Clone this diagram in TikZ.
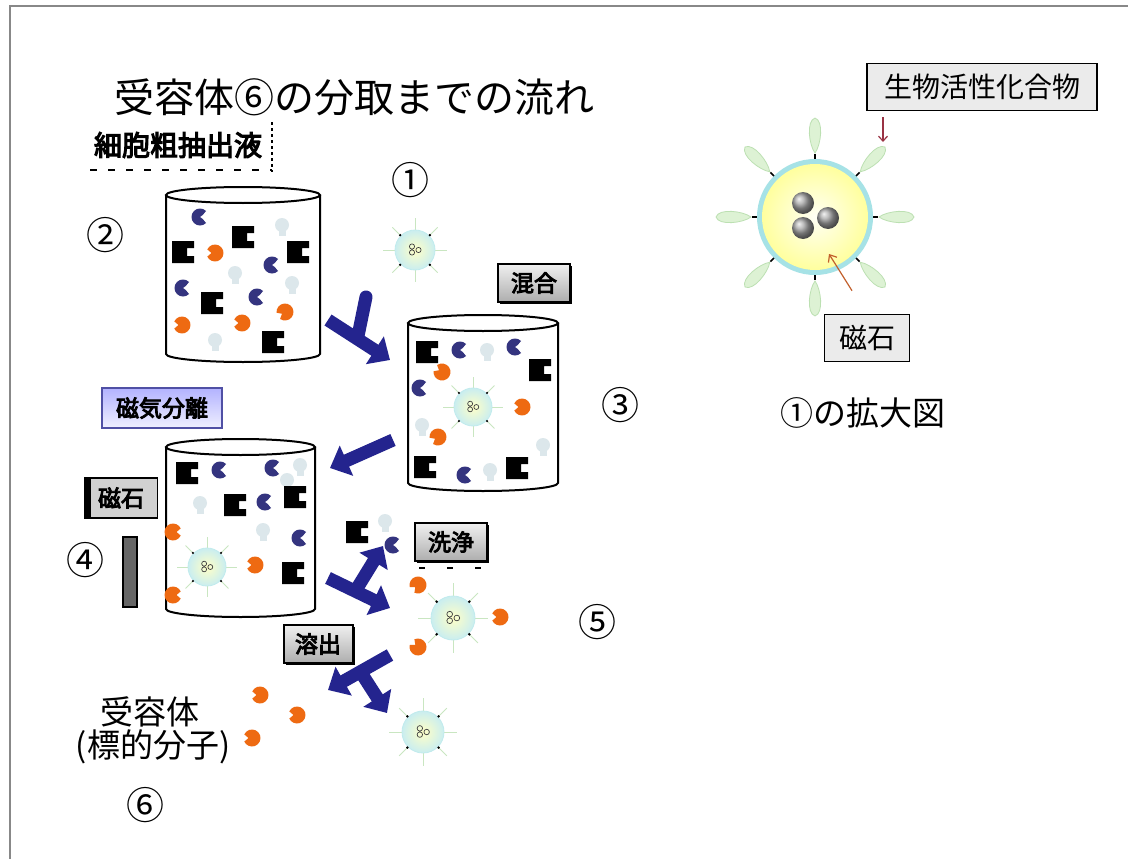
\documentclass[tikz,border=0pt]{standalone}
\usepackage{fontspec}
\newfontfamily\cjk{Noto Sans CJK JP}
\newfontfamily\cjkb{Noto Sans CJK JP}[FakeBold=4]
\usetikzlibrary{arrows.meta,shadows}

\definecolor{navy}{HTML}{24248E}
\definecolor{cblue}{HTML}{34347F}
\definecolor{orng}{HTML}{EE6A12}
\definecolor{paleb}{HTML}{DCE7EB}
\definecolor{lig}{HTML}{DDF2D4}
\definecolor{ligedge}{HTML}{BCE0B2}
\definecolor{ringc}{HTML}{A6E2E6}
\definecolor{redarrow}{HTML}{9A3344}
\definecolor{brnarrow}{HTML}{C2602C}
\definecolor{framec}{HTML}{888888}

% draws a tank: left x, right x, y of the rim, y where the walls end
\newcommand\drawtank[4]{%
  \pgfmathsetmacro\tcx{(#1+#2)/2}\pgfmathsetmacro\trx{(#2-#1)/2}%
  \draw[line width=2pt] (\tcx,#3) ellipse ({\trx} and 8);
  \draw[line width=2pt] (#1,#3) -- (#1,#4) arc (180:0:{\trx} and 8) -- (#2,#3);
}

\tikzset{
  blk/.pic={\fill[black] (-11,-11) -- (11,-11) -- (11,-4) -- (4,-4) -- (4,4) -- (11,4) -- (11,11) -- (-11,11) -- cycle;},
  bc/.pic={\fill[cblue] (45:8.5) arc (45:315:8.5) .. controls (-2,5) and (-2,-5) .. cycle;},
  orb/.pic={\fill[orng] (205:8.5) arc (205:515:8.5) -- (-3.5,0) -- cycle;},
  pale/.pic={\fill[paleb] (0,-2) circle (7); \fill[paleb] (-3.5,2) rectangle (3.5,9);},
  bead/.pic={
    \foreach \a in {0,45,...,315}{\draw[ligedge!80, line width=0.8pt] (\a:20) -- (\a:32);}
    \shade[inner color=yellow!22, outer color=ringc!60] (0,0) circle (20);
    \draw[ringc!70, line width=0.8pt] (0,0) circle (20);
    \foreach \a in {45,135,225,315}{\fill[black] (\a:21) circle (1.3);}
    \draw[black!75, line width=0.7pt] (-3,-3.5) circle (2.6) (-3,2.5) circle (2.6) (3.5,0) circle (2.6);
  },
  barrow/.style={draw=navy, line width=13pt, -{Triangle[width=32pt,length=18pt]}},
  barrowplain/.style={draw=navy, line width=13pt, line cap=round},
  ttl/.style={font=\cjk\fontsize{40}{42}\selectfont, inner sep=0},
  lbl/.style={font=\cjk\fontsize{33}{35}\selectfont, inner sep=0},
  num/.style={font=\cjk\fontsize{38}{38}\selectfont, inner sep=0},
  tagbox/.style={draw=black, line width=2pt, top color=white!94!black, bottom color=black!32,
     font=\cjkb\fontsize{23}{23}\selectfont, inner sep=0, minimum width=#1, minimum height=38pt,
     drop shadow={shadow xshift=2pt, shadow yshift=-2pt, fill=black, opacity=1}},
  tagbox/.default=72pt,
  infobox/.style={draw=black, line width=1.6pt, fill=black!8, inner sep=0,
     font=\cjk\fontsize{28}{28}\selectfont, minimum height=47pt},
}

\begin{document}
\begin{tikzpicture}[x=1pt,y=-1pt]
\useasboundingbox (0,0) rectangle (1128,859);
\fill[white] (0,0) rectangle (1128,859);
\draw[framec, line width=2.5pt] (10,859) -- (10,6) -- (1128,6);

% title and step labels
\node[ttl] (title) at (354,97) {受容体⑥の分取までの流れ};
\node[font=\cjkb\fontsize{28}{28}\selectfont, inner sep=0] (extract) at (178,145) {細胞粗抽出液};
\draw[line width=1.5pt, dash pattern=on 3pt off 3pt] (272,122) -- (272,172);
\draw[line width=1.5pt, dash pattern=on 7pt off 11pt] (90,170) -- (272,170);

\node[num] (n1) at (410,180) {①};
\node[num] (n2) at (105,235) {②};
\node[num] (n3) at (620,405) {③};
\node[num] (n4) at (85,560) {④};
\node[num] (n5) at (597,622) {⑤};
\node[num] (n6) at (145,805) {⑥};

% tank 1: crude extract
\drawtank{166}{320}{195}{354}
\pic at (200,217) {bc};
\pic at (243,237) {blk};
\pic at (282,227) {pale};
\pic at (183,252) {blk};
\pic at (215,253) {orb};
\pic at (298,252) {blk};
\pic at (272,265) {bc};
\pic at (235,275) {pale};
\pic at (183,288) {bc};
\pic at (292,285) {pale};
\pic at (212,303) {blk};
\pic at (257,297) {bc};
\pic[rotate=30] at (285,312) {orb};
\pic at (182,325) {orb};
\pic at (242,323) {orb};
\pic at (215,342) {pale};
\pic at (273,342) {blk};

% free bead
\pic at (415,250) {bead};

% tank 2: mixing
\drawtank{408}{558}{323}{483}
\pic at (427,352) {blk};
\pic at (460,350) {bc};
\pic at (487,352) {pale};
\pic at (515,347) {bc};
\pic at (540,370) {blk};
\pic[rotate=-30] at (442,372) {orb};
\pic at (420,388) {bc};
\pic[scale=0.95] at (473,407) {bead};
\pic at (522,407) {orb};
\pic at (422,427) {pale};
\pic[rotate=30] at (438,437) {orb};
\pic at (543,447) {pale};
\pic at (425,467) {blk};
\pic at (465,475) {bc};
\pic at (490,472) {pale};
\pic at (517,468) {blk};

% tank 3: magnetic separation
\drawtank{166}{315}{447}{609}
\pic at (187,473) {blk};
\pic at (220,470) {bc};
\pic at (273,468) {bc};
\pic at (300,467) {pale};
\pic at (287,482) {pale};
\pic at (235,505) {blk};
\pic at (265,502) {bc};
\pic at (295,497) {blk};
\pic at (200,505) {pale};
\pic at (263,532) {pale};
\pic at (300,538) {bc};
\pic[rotate=180] at (173,532) {orb};
\pic[scale=0.95] at (207,567) {bead};
\pic at (255,565) {orb};
\pic at (293,573) {blk};
\pic[rotate=180] at (173,595) {orb};

% magnet beside tank 3
\node[draw=black, line width=1.5pt, fill=black!60, minimum width=14pt, minimum height=70pt, inner sep=0] (bar) at (130,572) {};

% washed away
\pic at (357,532) {blk};
\pic at (385,523) {pale};
\pic at (393,545) {bc};

% washed beads with bound receptors
\pic[scale=1.1] at (453,618) {bead};
\pic[rotate=40] at (418,585) {orb};
\pic at (500,617) {orb};
\pic[rotate=-40] at (418,647) {orb};

% eluted bead and receptors
\pic[scale=1.05] at (423,732) {bead};
\pic at (260,695) {orb};
\pic at (297,715) {orb};
\pic at (252,738) {orb};

% process tags
\node[tagbox] (mix) at (534,283) {混合};
\node[draw=navy!80, line width=2pt, top color=blue!30!white, bottom color=blue!6!white,
      font=\cjkb\fontsize{23}{23}\selectfont, inner sep=0, minimum width=120pt, minimum height=40pt] (msep) at (162,408) {磁気分離};
\node[draw=black, line width=1.5pt, fill=black!18, font=\cjkb\fontsize{23}{23}\selectfont,
      inner sep=0, minimum width=73pt, minimum height=40pt] (magl) at (121,498) {磁石};
\fill[black] (magl.north west) rectangle ([xshift=7pt]magl.south west);
\node[tagbox] (wash) at (451,542) {洗浄};
\foreach \x in {422,450,478}{\draw[line width=2pt] (\x-3,568) -- (\x+3,568);}
\node[tagbox=69pt] (elute) at (318,644) {溶出};

% flow arrows
\draw[barrowplain] (366,297) -- (358,336);
\draw[barrow] (328,320) -- (390,360);
\draw[barrow] (393,440) -- (330,468);
\draw[barrow] (328,578) -- (390,608);
\draw[barrow] (356,590) -- (383,546);
\draw[barrow] (390,655) -- (328,690);
\draw[barrow] (360,671) -- (387,713);

% receptor label
\node[lbl] (recv) at (150,712) {受容体};
\node[lbl] (target) at (153,747) {(標的分子)};

% enlarged bead
\coordinate (big) at (815,217);
\foreach \a in {0,45,...,315}{
  \begin{scope}[shift={(big)}, rotate=\a]
    \filldraw[fill=lig, draw=ligedge, line width=0.8pt] (64,0) .. controls (72,-6) and (96,-9) .. (99,0) .. controls (96,9) and (72,6) .. cycle;
    \draw[black, line width=1.6pt] (57,0) -- (63,0);
  \end{scope}
}
\fill[ringc] (big) circle (58);
\shade[inner color=white!96!yellow, outer color=yellow!38] (big) circle (53);
\shade[ball color=black!35] (803,203) circle (11);
\shade[ball color=black!35] (828,218) circle (11);
\shade[ball color=black!35] (803,228) circle (11);

\node[infobox, minimum width=230pt] (bio) at (982,87) {生物活性化合物};
\coordinate (ligtip) at (883,142);
\draw[redarrow, line width=1.2pt, -{Straight Barb[length=5pt,width=9pt]}] ([yshift=-6pt]bio.south -| ligtip) -- (ligtip);

\node[infobox, minimum width=85pt] (magr) at (867,338) {磁石};
\coordinate (coretip) at (829,254);
\draw[brnarrow, line width=1.2pt, -{Straight Barb[length=6pt,width=10pt]}] ([xshift=-15pt,yshift=23pt]magr.north) -- (coretip);

\node[lbl] (zoomcap) at (863,413) {①の拡大図};
\end{tikzpicture}
\end{document}
